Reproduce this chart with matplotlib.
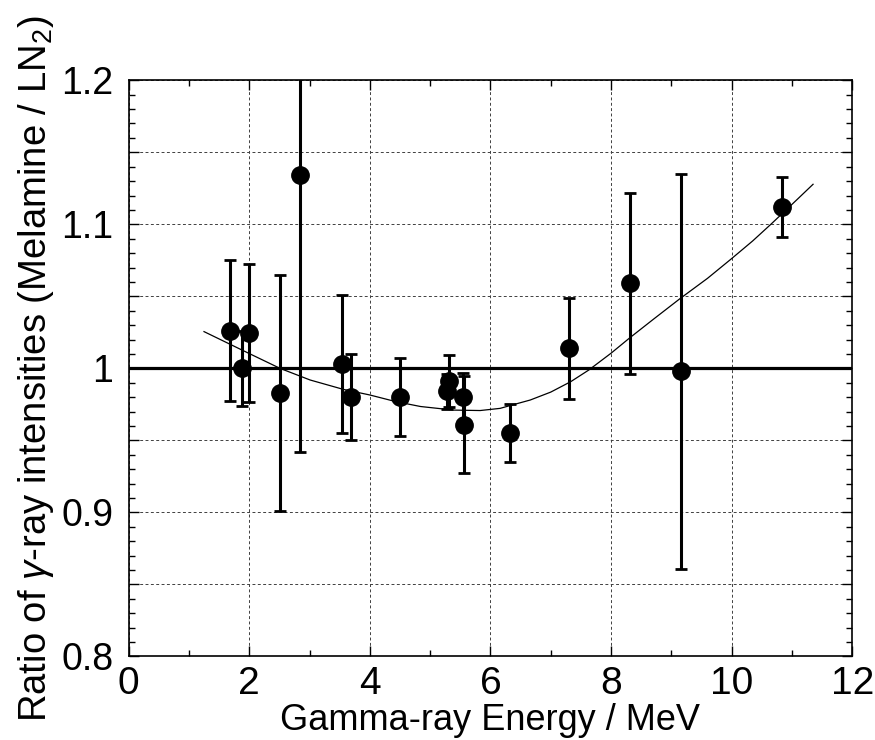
import matplotlib
matplotlib.use('Agg')
import matplotlib.pyplot as plt
from matplotlib.ticker import FixedLocator, MultipleLocator, FuncFormatter

energy = [1.683, 1.887, 2.003, 2.518, 2.84, 3.537, 3.686, 4.505, 5.28, 5.31,
          5.545, 5.567, 6.32, 7.31, 8.31, 9.152, 10.84]
ratio = [1.026, 1.000, 1.0245, 0.983, 1.134, 1.003, 0.980, 0.980, 0.984, 0.991,
         0.980, 0.961, 0.955, 1.014, 1.059, 0.998, 1.112]
ratio_err = [0.049, 0.026, 0.048, 0.082, 0.192, 0.048, 0.030, 0.027, 0.012, 0.018,
             0.017, 0.034, 0.020, 0.035, 0.063, 0.137, 0.021]

# Fitted curve, sampled off the figure
fit_e = [1.25, 1.88, 2.51, 3.01, 3.56, 4.0, 4.42, 4.84, 5.39, 5.83, 6.16, 6.33,
         6.66, 7.0, 7.33, 7.63, 8.0, 8.32, 8.7, 9.15, 9.6, 10.0, 10.35, 10.65,
         10.84, 11.1, 11.35]
fit_r = [1.0255, 1.0127, 1.000, 0.9919, 0.9854, 0.9815, 0.977, 0.9735, 0.9710,
         0.9707, 0.9722, 0.9742, 0.978, 0.9835, 0.9907, 0.9988, 1.0105, 1.0215,
         1.034, 1.0486, 1.0625, 1.0762, 1.0885, 1.100, 1.1075, 1.1178, 1.1278]

plt.rcParams['font.family'] = ['Liberation Sans', 'DejaVu Sans']
plt.rcParams['mathtext.fontset'] = 'custom'
plt.rcParams['mathtext.rm'] = 'Liberation Sans'
plt.rcParams['mathtext.it'] = 'Liberation Sans:italic'

fig = plt.figure(figsize=(8.75, 7.4), dpi=100)
ax = fig.add_axes([0.147, 0.113, 0.827, 0.7785])

ax.set_xlim(0, 12)
ax.set_ylim(0.8, 1.2)

# grid: dashed at every major tick
ax.xaxis.set_major_locator(MultipleLocator(2))
ax.xaxis.set_minor_locator(MultipleLocator(1))
ax.yaxis.set_major_locator(FixedLocator([0.8 + 0.05 * i for i in range(9)]))
ax.yaxis.set_minor_locator(MultipleLocator(0.01))
ax.yaxis.set_major_formatter(FuncFormatter(
  lambda v, p: '%g' % round(v, 2) if round(v * 20) % 2 == 0 else ''))
ax.grid(True, which='major', color='0.25', lw=0.7, ls=(0, (3, 2.5)))
ax.set_axisbelow(True)

ax.axhline(1.0, color='black', lw=2.3, zorder=2)
ax.plot(fit_e, fit_r, color='black', lw=0.9, zorder=3)
ax.errorbar(energy, ratio, yerr=ratio_err, fmt='o', color='black', ms=12.5,
            elinewidth=2.2, capsize=4, capthick=2, zorder=4)

ax.tick_params(which='both', direction='in', top=True, right=True, width=1)
ax.tick_params(which='major', length=7.5)
ax.tick_params(which='minor', length=4.5)
ax.tick_params(axis='y', labelsize=27, pad=11)
ax.tick_params(axis='x', labelsize=28, pad=7)
for s in ax.spines.values():
  s.set_linewidth(1.2)

ax.set_xlabel('Gamma-ray Energy / MeV', fontsize=26, labelpad=1)
ax.set_ylabel(r'Ratio of $\gamma$-ray intensities (Melamine / LN$_2$)', fontsize=27.5,
              labelpad=4)

fig.savefig('out.png', dpi=100)
